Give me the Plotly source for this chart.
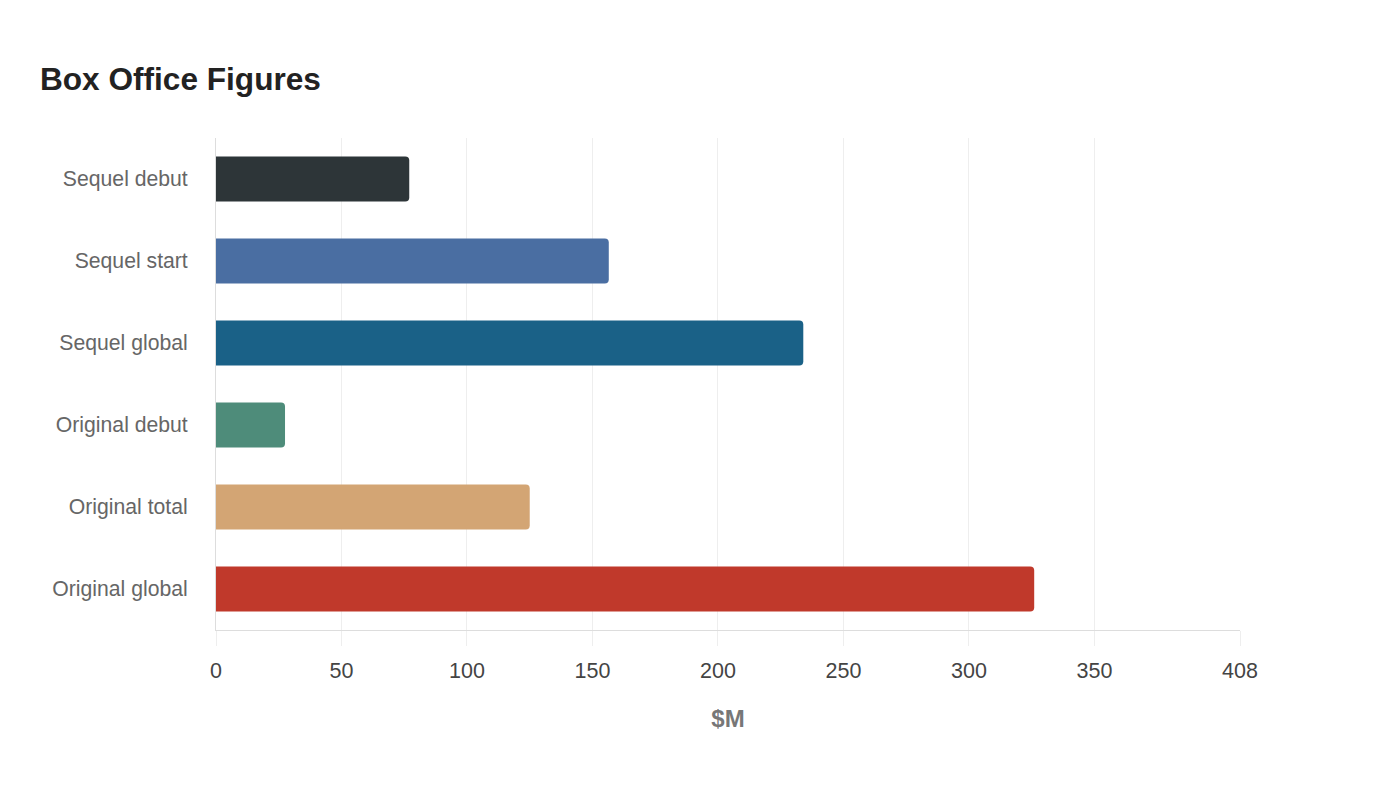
import plotly.graph_objects as go

# box office figures, $M
categories = ["Sequel debut", "Sequel start", "Sequel global",
              "Original debut", "Original total", "Original global"]
values = [77, 156.5, 234, 27.5, 125, 326]
bar_colors = ["#2d3538", "#4a6ea2", "#1a6187", "#4e8c7a", "#d3a574", "#c0392b"]
x_ticks = [0, 50, 100, 150, 200, 250, 300, 350, 408]

fig = go.Figure(go.Bar(
    x=values, y=categories, orientation="h",
    marker=dict(color=bar_colors, cornerradius=4, line=dict(width=0)),
    width=0.55,
    hoverinfo="x+y",
))

fig.update_layout(
    width=1400, height=800,
    paper_bgcolor="white", plot_bgcolor="white",
    font=dict(family="Liberation Sans, Arial, sans-serif"),
    title=dict(text="<b>Box Office Figures</b>", x=32 / 1400, xanchor="left",
               y=1 - 71 / 800, yanchor="middle",
               font=dict(size=31.6, color="#222222")),
    margin=dict(l=208, r=168, t=130, b=178),
    showlegend=False,
)

fig.update_xaxes(
    range=[0, 408], tickvals=x_ticks, ticktext=[str(t) for t in x_ticks],
    showgrid=True, gridcolor="#eeeeee", gridwidth=1,
    zeroline=False,
    showline=True, linecolor="#dddddd", linewidth=1,
    ticks="outside", ticklen=15, tickcolor="#eeeeee",
    ticklabelstandoff=6,
    tickfont=dict(size=21.5, color="#444444"),
    title=dict(text="<b>$M</b>", font=dict(size=24, color="#777777"), standoff=28),
)

fig.update_yaxes(
    autorange="reversed",
    showgrid=False, zeroline=False,
    showline=True, linecolor="#dddddd", linewidth=1,
    ticks="", ticklabelstandoff=23,
    tickfont=dict(size=21.2, color="#666666"),
)

fig.write_html("out.html")
